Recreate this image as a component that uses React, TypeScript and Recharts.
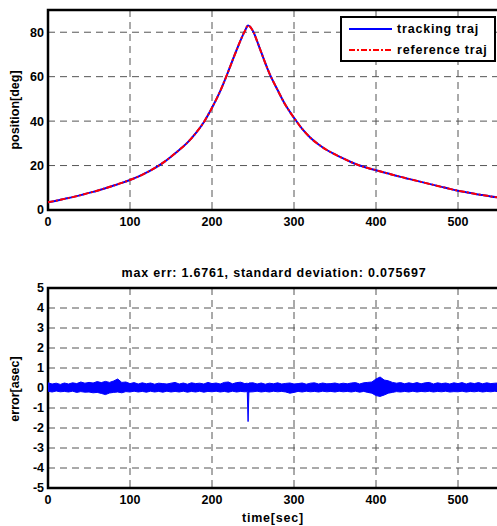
import React from 'react';
import {
  LineChart,
  Line,
  ComposedChart,
  Area,
  XAxis,
  YAxis,
  CartesianGrid,
  ReferenceArea,
  Legend,
} from 'recharts';

// --- position plot (deg vs sec) ---
const timeSec = [0, 10, 20, 30, 40, 50, 60, 70, 80, 90, 100, 110, 120, 130, 140, 150, 160, 170, 180, 190, 200, 210, 220, 230, 240, 244, 250, 255, 260, 270, 280, 290, 300, 310, 320, 330, 340, 350, 360, 370, 380, 390, 400, 410, 420, 430, 440, 450, 460, 470, 480, 490, 500, 510, 520, 530, 540, 550];
const trackingDeg = [3.5, 4.2, 5.0, 5.8, 6.7, 7.7, 8.7, 9.8, 11.0, 12.2, 13.5, 15.0, 16.8, 18.8, 21.2, 24.0, 27.0, 30.3, 34.5, 39.5, 46.0, 53.5, 62.5, 72.0, 80.5, 83.0, 80.5, 76.0, 71.0, 61.5, 54.0, 47.0, 41.5, 36.5, 32.5, 29.5, 27.0, 25.0, 23.2, 21.5, 20.0, 18.9, 17.9, 16.9, 15.9, 14.9, 14.0, 13.1, 12.2, 11.3, 10.4, 9.5, 8.7, 8.0, 7.3, 6.7, 6.1, 5.6];
// the reference overlays the tracking curve almost exactly
const referenceDeg = [3.5, 4.2, 5.0, 5.8, 6.7, 7.7, 8.7, 9.8, 11.0, 12.2, 13.5, 15.0, 16.8, 18.8, 21.2, 24.0, 27.0, 30.3, 34.5, 39.5, 46.0, 53.5, 62.5, 72.0, 80.5, 83.0, 80.5, 76.0, 71.0, 61.5, 54.0, 47.0, 41.5, 36.5, 32.5, 29.5, 27.0, 25.0, 23.2, 21.5, 20.0, 18.9, 17.9, 16.9, 15.9, 14.9, 14.0, 13.1, 12.2, 11.3, 10.4, 9.5, 8.7, 8.0, 7.3, 6.7, 6.1, 5.6];

// --- error plot: envelope of the noisy error signal (asec) ---
const errTime = [0, 5, 10, 15, 20, 25, 30, 35, 40, 45, 50, 55, 60, 65, 70, 75, 80, 85, 90, 95, 100, 105, 110, 115, 120, 125, 130, 135, 140, 145, 150, 155, 160, 165, 170, 175, 180, 185, 190, 195, 200, 205, 210, 215, 220, 225, 230, 235, 240, 243, 244, 245, 250, 255, 260, 265, 270, 275, 280, 285, 290, 295, 300, 305, 310, 315, 320, 325, 330, 335, 340, 345, 350, 355, 360, 365, 370, 375, 380, 385, 390, 395, 400, 405, 410, 415, 420, 425, 430, 435, 440, 445, 450, 455, 460, 465, 470, 475, 480, 485, 490, 495, 500, 505, 510, 515, 520, 525, 530, 535, 540, 545, 550];
const errUpper = [
  0.26, 0.2, 0.24, 0.18, 0.25, 0.2, 0.26, 0.22, 0.3, 0.24,
  0.28, 0.25, 0.32, 0.27, 0.33, 0.28, 0.35, 0.45, 0.28, 0.3,
  0.22, 0.27, 0.2, 0.26, 0.21, 0.25, 0.19, 0.24, 0.22, 0.2,
  0.24, 0.28, 0.2, 0.25, 0.19, 0.26, 0.22, 0.24, 0.2, 0.28,
  0.22, 0.25, 0.2, 0.28, 0.3, 0.21, 0.27, 0.29, 0.22,
  0.24, 0.2, 0.25,
  0.26, 0.2, 0.25, 0.19, 0.24, 0.21, 0.26, 0.2, 0.23, 0.25,
  0.2, 0.22, 0.25, 0.19, 0.24, 0.26, 0.2, 0.25, 0.21, 0.22,
  0.25, 0.2, 0.24, 0.21, 0.25, 0.27, 0.2, 0.26, 0.28, 0.3,
  0.45, 0.55, 0.4, 0.36, 0.28, 0.24, 0.27, 0.21, 0.26, 0.22,
  0.27, 0.21, 0.26, 0.28, 0.2, 0.26, 0.22, 0.25, 0.2, 0.26,
  0.22, 0.27, 0.2, 0.26, 0.22, 0.27, 0.21, 0.26, 0.22, 0.24, 0.25,
];
const errLower = [
  -0.16, -0.2, -0.15, -0.19, -0.17, -0.2, -0.16, -0.22, -0.18, -0.21,
  -0.2, -0.24, -0.22, -0.27, -0.33, -0.25, -0.22, -0.2, -0.24, -0.18,
  -0.2, -0.16, -0.2, -0.17, -0.21, -0.16, -0.2, -0.17, -0.21, -0.16,
  -0.2, -0.17, -0.2, -0.16, -0.21, -0.17, -0.2, -0.16, -0.21, -0.17,
  -0.19, -0.16, -0.2, -0.17, -0.21, -0.16, -0.2, -0.17, -0.19,
  -0.18, -1.68, -0.2,
  -0.19, -0.16, -0.2, -0.17, -0.2, -0.16, -0.19, -0.17, -0.2, -0.26,
  -0.22, -0.17, -0.2, -0.16, -0.19, -0.17, -0.2, -0.16, -0.19, -0.17,
  -0.2, -0.16, -0.19, -0.17, -0.2, -0.16, -0.21, -0.17, -0.22, -0.26,
  -0.38, -0.42, -0.35, -0.26, -0.22, -0.18, -0.2, -0.17, -0.2, -0.16,
  -0.2, -0.17, -0.19, -0.16, -0.2, -0.17, -0.19, -0.16, -0.2, -0.18,
  -0.19, -0.16, -0.2, -0.17, -0.19, -0.16, -0.2, -0.17, -0.19, -0.16, -0.2,
];

const xTicks = [0, 100, 200, 300, 400, 500];
const posTicks = [0, 20, 40, 60, 80];
const errTicks = [-5, -4, -3, -2, -1, 0, 1, 2, 3, 4, 5];
const legendOrder = ['tracking', 'reference'];

const posRows = timeSec.map((t, i) => ({ t, tracking: trackingDeg[i], reference: referenceDeg[i] }));
const errRows = errTime.map((t, i) => ({ t, lo: errLower[i], hi: errUpper[i] }));

const FONT = "'Liberation Sans', Arial, Helvetica, sans-serif";
const tickStyle = { fill: '#000', fontSize: 12.5, fontWeight: 700, fontFamily: FONT };
const GRID = '#555';
const DASH = '7 5';
const REF_DASH = '6 2 2 2';

const textStyle: React.CSSProperties = {
  position: 'absolute',
  fontFamily: FONT,
  fontWeight: 700,
  fontSize: 12.5,
  color: '#000',
  whiteSpace: 'nowrap',
  textAlign: 'center',
  lineHeight: '16px',
};
const wideText: React.CSSProperties = { ...textStyle, letterSpacing: '0.8px' };

const renderLegend = (props: any) => {
  const items = [...(props.payload || [])].sort(
    (a: any, b: any) => legendOrder.indexOf(a.dataKey) - legendOrder.indexOf(b.dataKey)
  );
  return (
    <div
      style={{
        width: 156,
        height: 46,
        border: '2px solid #000',
        background: '#fff',
        boxSizing: 'border-box',
        position: 'relative',
      }}
    >
      {items.map((entry: any, i: number) => (
        <div key={entry.value} style={{ position: 'absolute', left: 0, top: i === 0 ? 3 : 24, height: 16, width: 152 }}>
          <svg width={50} height={16} style={{ position: 'absolute', left: 7, top: 0 }}>
            <line
              x1={0}
              x2={43}
              y1={8}
              y2={8}
              stroke={entry.color}
              strokeWidth={2}
              strokeDasharray={entry.dataKey === 'reference' ? REF_DASH : undefined}
            />
          </svg>
          <span style={{ ...wideText, textAlign: 'left', left: 55, top: 0 }}>{entry.value}</span>
        </div>
      ))}
    </div>
  );
};

export default function App() {
  return (
    <div
      style={{
        position: 'absolute',
        left: 0,
        top: 0,
        width: 497,
        height: 526,
        overflow: 'hidden',
        background: '#fff',
      }}
    >
      {/* --- position plot --- */}
      <div style={{ position: 'absolute', left: 0, top: 0 }}>
        <LineChart width={502} height={235} data={posRows} margin={{ top: 10, right: 3, bottom: 0, left: 0 }}>
          <CartesianGrid stroke={GRID} strokeDasharray={DASH} />
          <XAxis
            dataKey="t"
            type="number"
            domain={[0, 550]}
            ticks={xTicks}
            interval={0}
            tick={tickStyle}
            tickLine={false}
            axisLine={false}
            tickSize={6}
            tickMargin={1}
            height={25}
          />
          <YAxis
            type="number"
            domain={[0, 90]}
            ticks={posTicks}
            interval={0}
            tick={tickStyle}
            tickLine={false}
            axisLine={false}
            tickSize={4}
            tickMargin={0}
            width={48}
          />
          <XAxis xAxisId="top" orientation="top" mirror type="number" dataKey="t" domain={[0, 550]} ticks={xTicks} allowDataOverflow tick={false} tickLine={{ stroke: '#000' }} tickSize={5} axisLine={false} />
          <XAxis xAxisId="bin" orientation="bottom" mirror type="number" dataKey="t" domain={[0, 550]} ticks={xTicks} allowDataOverflow tick={false} tickLine={{ stroke: '#000' }} tickSize={5} axisLine={false} />
          <YAxis yAxisId="lin" orientation="left" mirror type="number" domain={[0, 90]} ticks={posTicks} allowDataOverflow tick={false} tickLine={{ stroke: '#000' }} tickSize={5} axisLine={false} />
          <ReferenceArea x1={0} x2={550} y1={0} y2={90} fill="none" stroke="#000" strokeWidth={2.5} />
          <Line
            type="monotone"
            dataKey="tracking"
            name="tracking traj"
            stroke="#0000ff"
            strokeWidth={2}
            dot={false}
            isAnimationActive={false}
          />
          <Line
            type="monotone"
            dataKey="reference"
            name="reference traj"
            stroke="#ff0000"
            strokeWidth={2}
            strokeDasharray={REF_DASH}
            dot={false}
            isAnimationActive={false}
          />
          <Legend
            layout="horizontal"
            align="center"
            verticalAlign="middle"
            content={renderLegend}
            wrapperStyle={{ left: 340, top: 16, width: 156, height: 46 }}
          />
        </LineChart>
      </div>

      {/* --- error plot --- */}
      <div style={{ position: 'absolute', left: 0, top: 240 }}>
        <ComposedChart width={502} height={286} data={errRows} margin={{ top: 48, right: 3, bottom: 0, left: 0 }}>
          <CartesianGrid stroke={GRID} strokeDasharray={DASH} />
          <XAxis
            dataKey="t"
            type="number"
            domain={[0, 550]}
            ticks={xTicks}
            interval={0}
            tick={tickStyle}
            tickLine={false}
            axisLine={false}
            tickSize={6}
            tickMargin={1}
            height={38}
          />
          <YAxis
            type="number"
            domain={[-5, 5]}
            ticks={errTicks}
            interval={0}
            tick={tickStyle}
            tickLine={false}
            axisLine={false}
            tickSize={4}
            tickMargin={0}
            width={48}
          />
          <XAxis xAxisId="top" orientation="top" mirror type="number" dataKey="t" domain={[0, 550]} ticks={xTicks} allowDataOverflow tick={false} tickLine={{ stroke: '#000' }} tickSize={5} axisLine={false} />
          <XAxis xAxisId="bin" orientation="bottom" mirror type="number" dataKey="t" domain={[0, 550]} ticks={xTicks} allowDataOverflow tick={false} tickLine={{ stroke: '#000' }} tickSize={5} axisLine={false} />
          <YAxis yAxisId="lin" orientation="left" mirror type="number" domain={[-5, 5]} ticks={errTicks} allowDataOverflow tick={false} tickLine={{ stroke: '#000' }} tickSize={5} axisLine={false} />
          <ReferenceArea x1={0} x2={550} y1={-5} y2={5} fill="none" stroke="#000" strokeWidth={2.5} />
          <Area
            type="linear"
            dataKey={(d: any) => [d.lo, d.hi]}
            stroke="#0000ff"
            strokeWidth={1}
            fill="#0000ff"
            fillOpacity={1}
            dot={false}
            activeDot={false}
            isAnimationActive={false}
          />
        </ComposedChart>
      </div>

      {/* axis titles */}
      <div style={{ ...textStyle, width: 120, left: 15 - 60, top: 110 - 8, transform: 'rotate(-90deg)' }}>position[deg]</div>
      <div style={{ ...textStyle, width: 120, left: 15 - 60, top: 389 - 8, transform: 'rotate(-90deg)' }}>error[asec]</div>
      <div style={{ ...wideText, width: 400, left: 274 - 200, top: 273 - 8 }}>max err: 1.6761, standard deviation: 0.075697</div>
      <div style={{ ...wideText, width: 200, left: 273 - 100, top: 518 - 8 }}>time[sec]</div>
    </div>
  );
}
